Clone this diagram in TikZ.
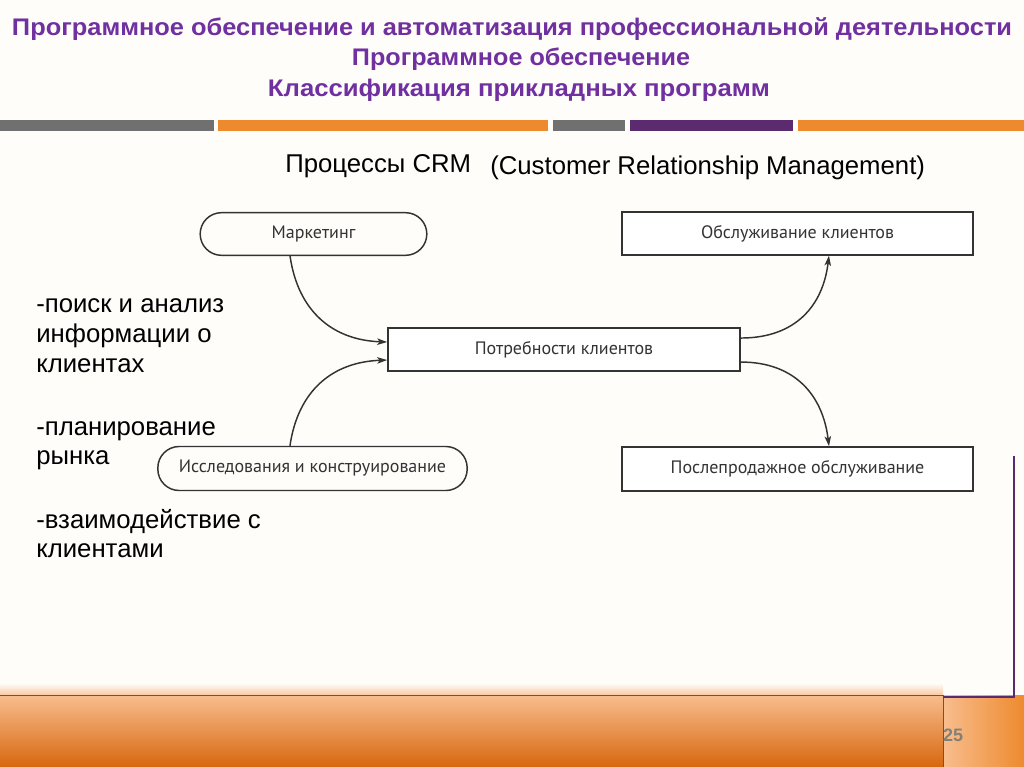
\documentclass[tikz,border=0pt]{standalone}
\usepackage{fontspec}
\setmainfont{Liberation Sans}
\newfontfamily\diagfont{PT Sans}
\usepackage{graphicx}
\usetikzlibrary{arrows.meta}
\definecolor{ttl}{HTML}{7030A0}
\definecolor{bgc}{HTML}{FFFDFA}
\definecolor{bargray}{HTML}{707070}
\definecolor{barorange}{HTML}{EE8A2E}
\definecolor{barpurple}{HTML}{5C2A6E}
\definecolor{bandtop}{HTML}{F8BD8E}
\definecolor{bandmid}{HTML}{F59B4C}
\definecolor{bandbot}{HTML}{D7670F}
\definecolor{linec}{HTML}{333333}
\definecolor{pagenum}{HTML}{858075}
\tikzset{
  ttltext/.style={text=ttl, font=\bfseries\fontsize{18}{21}\selectfont, inner sep=0pt, anchor=base},
  bigtext/.style={font=\fontsize{19.3}{23}\selectfont, inner sep=0pt, anchor=base west, text=black},
  stadium/.style={draw=linec, line width=1.1pt, rounded corners=16pt, inner sep=0pt, font=\diagfont\fontsize{13.5}{16}\selectfont, text=linec},
  boxnode/.style={draw=linec, line width=1.1pt, inner sep=0pt, font=\diagfont\fontsize{13.5}{16}\selectfont, text=linec, fill=white},
  conn/.style={draw=linec, line width=1.1pt, -{Stealth[length=7.5pt,width=4.8pt,inset=1.8pt]}}
}
\begin{document}
\begin{tikzpicture}[x=0.75pt,y=-0.75pt]
\useasboundingbox (0,0) rectangle (1024,767);
\fill[bgc] (0,0) rectangle (1024,767);

% title
\node[ttltext] (t1) at (512,36) {\resizebox{750pt}{\height}{Программное обеспечение и автоматизация профессиональной деятельности}};
\node[ttltext] (t2) at (521,65) {\resizebox{253.5pt}{\height}{Программное обеспечение}};
\node[ttltext] (t3) at (519,96) {\resizebox{376.5pt}{\height}{Классификация прикладных программ}};

% bars
\fill[bargray] (0,120) rectangle (214,131);
\fill[barorange] (218,120) rectangle (548,131);
\fill[bargray] (553,120) rectangle (625,131);
\fill[barpurple] (630,120) rectangle (793,131);
\fill[barorange] (798,120) rectangle (1024,131);

% bottom band
\shade[top color=bgc, bottom color=bandtop!80!bgc] (0,683) rectangle (943,695);
\shade[top color=bandtop, middle color=bandmid, bottom color=bandbot] (0,695) rectangle (943,767);
\shade[left color=bandtop, right color=barorange] (943,695) rectangle (1024,767);
\draw[line width=0.7pt, color=gray!70!black] (0,695) -- (943,695) -- (943,767);
\draw[barpurple, line width=1.6pt] (943,697) -- (1014,697) -- (1014,456);
\node[font=\bfseries\fontsize{13.5}{14}\selectfont, text=pagenum, inner sep=0pt] (pg) at (953,735) {25};

% headings
\node[bigtext] (h1) at (285,172) {Процессы CRM};
\node[bigtext] (h2) at (490,174) {(Customer Relationship Management)};

% left text
\node[bigtext] (l1) at (36,312) {-поиск и анализ};
\node[bigtext] (l2) at (36,342) {информации о};
\node[bigtext] (l3) at (36,372) {клиентах};
\node[bigtext] (l4) at (36,435) {-планирование};
\node[bigtext] (l5) at (36,464) {рынка};
\node[bigtext] (l6) at (36,528) {-взаимодействие с};
\node[bigtext] (l7) at (36,557) {клиентами};

% diagram nodes
\node[stadium, minimum width=170pt, minimum height=32pt] (mk) at (313.5,234) {Маркетинг};
\node[stadium, minimum width=232pt, minimum height=33pt] (ik) at (312.5,468.5) {Исследования и конструирование};
\node[boxnode, minimum width=264pt, minimum height=32pt] (pp) at (564,349.5) {Потребности клиентов};
\node[boxnode, minimum width=263pt, minimum height=32pt] (ok) at (797.5,233.5) {Обслуживание клиентов};
\node[boxnode, minimum width=263pt, minimum height=33pt] (po) at (797.5,469) {Послепродажное обслуживание};

% connectors
\draw[conn] ([xshift=-17.6pt]mk.south) .. controls +(8,55) and +(-55,-2) .. ([yshift=5.6pt]pp.west);
\draw[conn] ([xshift=-16.9pt]ik.north) .. controls +(8,-55) and +(-55,2) .. ([yshift=-7.9pt]pp.west);
\draw[conn] ([yshift=8.6pt]pp.east) .. controls +(55,0) and +(-6,50) .. ([xshift=23.6pt]ok.south);
\draw[conn] ([yshift=-9.4pt]pp.east) .. controls +(55,0) and +(-6,-50) .. ([xshift=23.6pt]po.north);
\end{tikzpicture}
\end{document}
